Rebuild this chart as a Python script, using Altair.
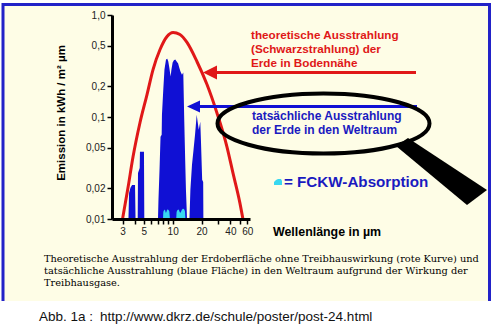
import altair as alt
import pandas as pd

# ---------------- data ----------------
red_x = [3.0, 3.42, 3.86, 4.56, 5.4, 6.24, 7.38, 8.73, 10.1, 11.9, 14.1, 17.9,
         22.8, 28.9, 36.8, 42.5, 50.2, 54.0]
red_y = [0.0100, 0.0202, 0.0407, 0.0879, 0.166, 0.292, 0.459, 0.616, 0.674, 0.644,
         0.538, 0.350, 0.208, 0.110, 0.051, 0.0283, 0.0144, 0.0100]

blue_x = [3.46, 3.51, 3.63, 3.77, 4.05, 4.10,
          4.32, 4.35, 4.53, 4.56, 5.02, 5.06,
          7.03, 7.11, 7.29, 7.47, 7.68, 7.73, 7.98, 8.21, 8.52, 8.79, 9.0, 9.22,
          9.51, 9.71, 9.99, 10.3, 10.65, 11.0, 11.4, 11.7, 12.06, 12.5, 12.9,
          13.2, 13.5, 13.75, 14.0, 14.1,
          14.97, 15.3, 15.9, 16.5, 17.1, 17.8, 18.2, 18.7, 19.4, 19.7, 20.0,
          20.3, 20.8, 20.9]
blue_y = [0.01, 0.018, 0.0202, 0.0216, 0.0216, 0.01,
          0.01, 0.0283, 0.0317, 0.0456, 0.0456, 0.01,
          0.01, 0.0154, 0.0303, 0.064, 0.067, 0.105, 0.185, 0.292, 0.366, 0.372,
          0.35, 0.305, 0.249, 0.292, 0.342, 0.36, 0.366, 0.35, 0.334, 0.305,
          0.279, 0.26, 0.273, 0.094, 0.038, 0.0193, 0.0123, 0.01,
          0.01, 0.0193, 0.034, 0.0477, 0.067, 0.105, 0.090, 0.075, 0.090, 0.060,
          0.038, 0.0242, 0.0231, 0.01]

cyan_x = [7.95, 8.0, 8.3, 8.5, 8.8, 9.2, 9.4,
          10.9, 11.0, 11.5, 12.0, 12.4, 12.9, 13.4, 13.6]
cyan_y = [0.01, 0.0118, 0.0123, 0.0115, 0.0124, 0.012, 0.01,
          0.01, 0.0118, 0.0124, 0.0115, 0.0122, 0.0126, 0.012, 0.01]

x_ticks = [3, 4, 5, 6, 7, 8, 9, 10, 20, 30, 40, 50, 60]
x_labels = ["3", "", "5", "", "", "", "", "10", "20", "", "40", "", "60"]
y_ticks = [0.01, 0.02, 0.05, 0.1, 0.2, 0.5, 1.0]
y_labels = ["0,01", "0,02", "0,05", "0,1", "0,2", "0,5", "1,0"]

red_text = ["theoretische Ausstrahlung", "(Schwarzstrahlung) der", "Erde in Bodennähe"]
blue_text = ["tatsächliche Ausstrahlung", "der Erde in den Weltraum"]
legend_text = "= FCKW-Absorption"
x_title = "Wellenlänge in µm"
y_title = "Emission in kWh / m² µm"
caption = [
    "Theoretische Ausstrahlung der Erdoberfläche ohne Treibhauswirkung (rote Kurve) und",
    "tatsächliche Ausstrahlung (blaue Fläche) in den Weltraum aufgrund der Wirkung der",
    "Treibhausgase.",
]
footer_label = "Abb. 1a :"
footer_url = "http://www.dkrz.de/schule/poster/post-24.html"

# ---------------- styling ----------------
RED = "#e01818"
BLUE = "#1010d4"
TXT_BLUE = "#1a1ac0"
CYAN = "#38d8f0"
CREAM = "#fefde6"
BORDER = "#2222c8"

OX, OY = 112, 15
W, H = 138, 204


def vx(p):
    return alt.value(p - OX)


def vy(p):
    return alt.value(p - OY)


def label_expr(vals, labs):
    parts = [f"abs(datum.value - {v}) < {v * 1e-3} ? '{l}'" for v, l in zip(vals, labs)]
    return " : ".join(parts) + " : ''"


xs = alt.Scale(type="log", domain=[2.33, 64], nice=False)
ys = alt.Scale(type="log", domain=[0.01, 1.0], nice=False)

axis_common = dict(domainColor="black", domainWidth=3, tickColor="black", tickWidth=1.5,
                   tickSize=5, labelFont="Liberation Sans", labelFontSize=10,
                   labelColor="#222", grid=False, labelOverlap=False, labelFlush=False,
                   zindex=1, title=None)
xaxis = alt.Axis(values=x_ticks, labelExpr=label_expr(x_ticks, x_labels), labelPadding=2,
                 **axis_common)
yaxis = alt.Axis(values=y_ticks, labelExpr=label_expr(y_ticks, y_labels), labelPadding=2,
                 **axis_common)

df_red = pd.DataFrame({"x": red_x, "y": red_y})
df_blue = pd.DataFrame({"x": blue_x, "y": blue_y})
df_cyan = pd.DataFrame({"x": cyan_x, "y": cyan_y})
one = pd.DataFrame({"k": [0]})

X = alt.X("x:Q", scale=xs, axis=xaxis)
Y = alt.Y("y:Q", scale=ys, axis=yaxis)

panel = alt.Chart(one).mark_rect(color=CREAM).encode(
    x=vx(2), x2=vx(490), y=vy(4), y2=vy(301))
b_left = alt.Chart(one).mark_rule(color=BORDER, strokeWidth=3).encode(
    x=vx(3), y=vy(3), y2=vy(301))
b_top = alt.Chart(one).mark_rule(color=BORDER, strokeWidth=3).encode(
    x=vx(2), x2=vx(491), y=vy(4.5))
b_right = alt.Chart(one).mark_rule(color=BORDER, strokeWidth=3).encode(
    x=vx(489.5), y=vy(3), y2=vy(301))

blue = alt.Chart(df_blue).mark_area(color=BLUE, opacity=1).encode(
    x=X, y=Y, y2=alt.Y2(datum=0.01))
cyan = alt.Chart(df_cyan).mark_area(color=CYAN, opacity=1, interpolate="monotone").encode(
    x=X, y=Y, y2=alt.Y2(datum=0.01))
red = alt.Chart(df_red).mark_line(color=RED, strokeWidth=3, interpolate="monotone").encode(
    x=X, y=Y)

red_line = alt.Chart(one).mark_rule(color=RED, strokeWidth=3).encode(
    x=vx(212), x2=vx(416), y=vy(72.5))
red_head = alt.Chart(one).mark_point(shape="M 0 0 L 14 -7 L 14 7 Z", size=4, filled=True,
                                     color=RED, opacity=1).encode(x=vx(203), y=vy(72.5))
blue_line = alt.Chart(one).mark_rule(color=BLUE, strokeWidth=3).encode(
    x=vx(196), x2=vx(417), y=vy(106.5))
blue_head = alt.Chart(one).mark_point(shape="M 0 0 L 13 -6 L 13 6 Z", size=4, filled=True,
                                      color=BLUE, opacity=1).encode(x=vx(187), y=vy(106.5))

handle = alt.Chart(one).mark_point(shape="M -44 -24 L -32 -32 L 47 20 L 27 35 Z", size=4,
                                   filled=True, color="black", opacity=1).encode(
    x=vx(440), y=vy(170))
ellipse = alt.Chart(one).mark_point(
    shape="M -106 0 A 106 30 0 1 0 106 0 A 106 30 0 1 0 -106 0 Z", size=4, filled=False,
    color="black", strokeWidth=4, opacity=1).encode(x=vx(323.5), y=vy(123.5))
blob = alt.Chart(one).mark_point(
    shape="M -4 3 L -4 0 L -2 -2 L 0 -3 L 3 -3 L 4 -1 L 4 3 Z", size=4, filled=True,
    color=CYAN, opacity=1).encode(x=vx(278), y=vy(182))

t_red = alt.Chart(one).mark_text(align="left", baseline="top", font="Liberation Sans",
                                 fontWeight="bold", fontSize=11.7, color=RED, lineHeight=14).encode(
    x=vx(251), y=vy(30), text=alt.value(red_text))
t_blue = alt.Chart(one).mark_text(align="left", baseline="top", font="Liberation Sans",
                                  fontWeight="bold", fontSize=12, color=TXT_BLUE, lineHeight=13.5).encode(
    x=vx(252), y=vy(111), text=alt.value(blue_text))
t_leg = alt.Chart(one).mark_text(align="left", baseline="middle", font="Liberation Sans",
                                 fontWeight="bold", fontSize=15.2, color=TXT_BLUE).encode(
    x=vx(284), y=vy(182), text=alt.value(legend_text))
t_xt = alt.Chart(one).mark_text(align="left", baseline="middle", font="Liberation Sans",
                                fontWeight="bold", fontSize=12.4, color="black").encode(
    x=vx(273), y=vy(232), text=alt.value(x_title))
t_yt = alt.Chart(one).mark_text(angle=270, align="center", baseline="middle",
                                font="Liberation Sans", fontWeight="bold", fontSize=11.5,
                                color="black").encode(
    x=vx(62), y=vy(113), text=alt.value(y_title))
t_cap = alt.Chart(one).mark_text(align="left", baseline="top", font="DejaVu Serif",
                                 fontSize=9.8, color="black", lineHeight=11.8).encode(
    x=vx(44), y=vy(254), text=alt.value(caption))
t_f1 = alt.Chart(one).mark_text(align="left", baseline="middle", font="Liberation Sans",
                                fontSize=13.5, color="#111").encode(
    x=vx(39), y=vy(317), text=alt.value(footer_label))
t_f2 = alt.Chart(one).mark_text(align="left", baseline="middle", font="Liberation Sans",
                                fontSize=13.5, color="#111").encode(
    x=vx(100), y=vy(317), text=alt.value(footer_url))

chart = alt.layer(
    panel, b_left, b_top, b_right,
    blue, cyan, red,
    red_line, red_head, blue_line, blue_head,
    handle, ellipse, blob,
    t_red, t_blue, t_leg, t_xt, t_yt, t_cap, t_f1, t_f2,
).properties(
    width=W, height=H,
    padding={"left": OX, "top": OY, "right": 493 - OX - W, "bottom": 326 - OY - H},
    autosize=alt.AutoSizeParams(type="none"),
    background="white",
).configure_view(strokeWidth=0)

chart.save("out.html", embed_options={"renderer": "svg", "actions": False})
